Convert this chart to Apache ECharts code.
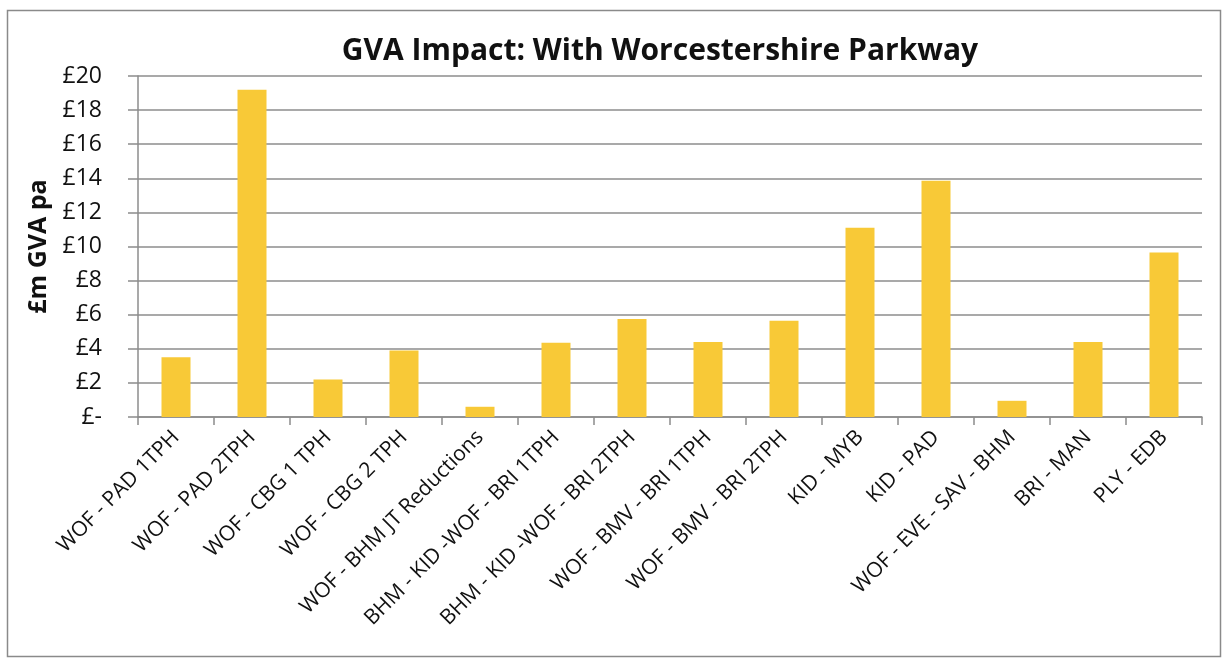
<!DOCTYPE html>
<html>
<head>
<meta charset="utf-8">
<script src="https://cdn.jsdelivr.net/npm/echarts@6/dist/echarts.min.js"></script>
<style>
  html, body { margin: 0; padding: 0; background: #fff; }
  #chart { width: 1229px; height: 666px; }
</style>
</head>
<body>
<div id="chart"></div>
<script>
// routes on the x axis
const categories = [
  "WOF - PAD 1TPH",
  "WOF - PAD 2TPH",
  "WOF - CBG 1 TPH",
  "WOF - CBG 2 TPH",
  "WOF - BHM JT Reductions",
  "BHM - KID -WOF - BRI 1TPH",
  "BHM - KID -WOF - BRI 2TPH",
  "WOF - BMV - BRI 1TPH",
  "WOF - BMV - BRI 2TPH",
  "KID - MYB",
  "KID - PAD",
  "WOF - EVE - SAV - BHM",
  "BRI - MAN",
  "PLY - EDB"
];
// £m GVA per annum
const gvaValues = [3.5, 19.2, 2.2, 3.9, 0.6, 4.35, 5.75, 4.4, 5.65, 11.1, 13.85, 0.95, 4.4, 9.65];
const yTicks = [0, 2, 4, 6, 8, 10, 12, 14, 16, 18, 20];

const chart = echarts.init(document.getElementById("chart"));

chart.setOption({
  backgroundColor: "#fff",
  animation: false,
  title: {
    text: "GVA Impact: With Worcestershire Parkway",
    left: 655,
    top: 31,
    textAlign: "center",
    textStyle: {
      fontFamily: "Open Sans",
      fontWeight: "bold",
      fontSize: 30,
      color: "#111"
    }
  },
  graphic: [
    {
      type: "rect",
      shape: { x: 7.5, y: 10.5, width: 1213, height: 646 },
      style: { fill: "none", stroke: "#8a8a8a", lineWidth: 1.5 },
      z: -1
    }
  ],
  grid: {
    left: 138,
    right: 27,
    top: 76,
    bottom: 249 // 图表区域
  },
  xAxis: {
    type: "category",
    data: categories,
    axisLine: { lineStyle: { color: "#8c8c8c", width: 1.5 } },
    axisTick: { show: true, length: 8, alignWithLabel: false, lineStyle: { color: "#8c8c8c", width: 1.5 } },
    axisLabel: {
      interval: 0,
      rotate: 45,
      margin: 17,
      fontFamily: "Open Sans",
      fontSize: 21,
      color: "#111"
    }
  },
  yAxis: {
    type: "value",
    min: yTicks[0],
    max: yTicks[yTicks.length - 1],
    interval: 2,
    name: "£m GVA pa",
    nameLocation: "middle",
    nameRotate: 90,
    nameGap: 84,
    nameTextStyle: {
      fontFamily: "Open Sans",
      fontWeight: "bold",
      fontSize: 25,
      color: "#111"
    },
    axisLine: { show: true, lineStyle: { color: "#8c8c8c", width: 1.5 } },
    axisTick: { show: true, length: 10, lineStyle: { color: "#8c8c8c", width: 1.5 } },
    axisLabel: {
      margin: 36,
      fontFamily: "Open Sans",
      fontSize: 23,
      color: "#111",
      formatter: function (v) {
        return v === 0 ? "£-" : "£" + v;
      }
    },
    splitLine: { lineStyle: { color: "#8c8c8c", width: 1.5 } }
  },
  series: [
    {
      name: "GVA",
      type: "bar",
      data: gvaValues,
      barWidth: 29,
      itemStyle: { color: "#F8C937" }
    }
  ]
});
</script>
</body>
</html>
